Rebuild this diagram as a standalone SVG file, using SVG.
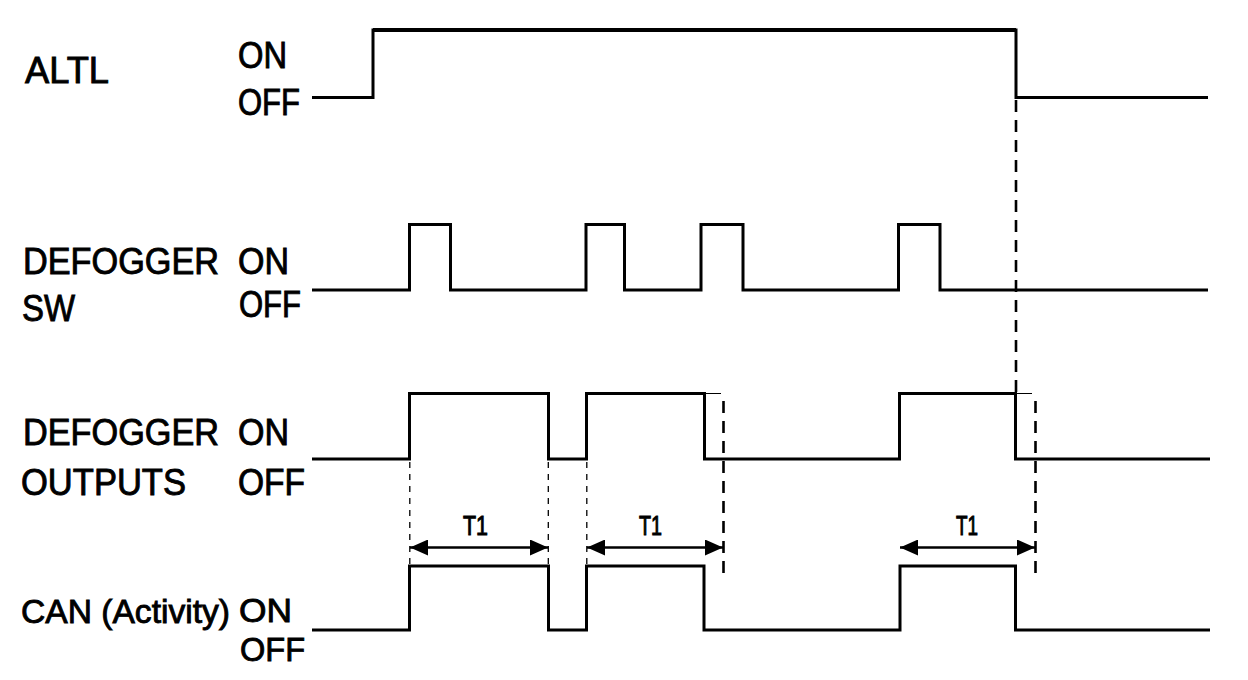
<svg xmlns="http://www.w3.org/2000/svg" width="1248" height="680" viewBox="0 0 1248 680">
<style>
.lbl{font-family:"Liberation Sans",Arial,sans-serif;font-size:36px;fill:#000;stroke:#000;stroke-width:0.9}
.sm{font-size:34px}
.t1{font-family:"Liberation Sans",Arial,sans-serif;font-size:27px;fill:#000;stroke:#000;stroke-width:1}
.wave{fill:none;stroke:#000;stroke-width:3;stroke-linejoin:miter;stroke-linecap:butt}
.thin{fill:none;stroke:#000;stroke-width:1.2}
.dthin{fill:none;stroke:#000;stroke-width:1.3;stroke-dasharray:6 6}
.dbold{fill:none;stroke:#000;stroke-width:2.6;stroke-dasharray:12 8}
.arr{fill:none;stroke:#000;stroke-width:2.6}
</style>
<defs>
<marker id="ah" viewBox="0 0 18 16" refX="18" refY="8" markerWidth="18" markerHeight="16" markerUnits="userSpaceOnUse" orient="auto-start-reverse">
<path d="M0,0 L18,8 L0,16 Z" fill="#000"/>
</marker>
</defs>
<rect width="1248" height="680" fill="#fff"/>

<g id="altl">
<text class="lbl" x="25" y="83" textLength="84" lengthAdjust="spacingAndGlyphs">ALTL</text>
<text class="lbl" x="238" y="68" textLength="49" lengthAdjust="spacingAndGlyphs">ON</text>
<text class="lbl" x="238" y="115" textLength="62" lengthAdjust="spacingAndGlyphs">OFF</text>
<path class="wave" d="M312,97.5 H373 V30 H1016 V97.5 H1208"/>
<path d="M373,30 H1016" stroke="#000" stroke-width="4" fill="none"/>
</g>

<g id="defogger-sw">
<text class="lbl" x="23" y="274" textLength="196" lengthAdjust="spacingAndGlyphs">DEFOGGER</text>
<text class="lbl" x="238" y="274" textLength="51" lengthAdjust="spacingAndGlyphs">ON</text>
<text class="lbl" x="22" y="321" textLength="53" lengthAdjust="spacingAndGlyphs">SW</text>
<text class="lbl" x="239" y="317" textLength="62" lengthAdjust="spacingAndGlyphs">OFF</text>
<path class="wave" d="M312,290 H409.5 V224.5 H450.5 V290 H586 V224.5 H624.5 V290 H701 V224.5 H743 V290 H898.5 V224.5 H940 V290 H1208"/>
</g>

<g id="defogger-outputs">
<text class="lbl" x="23" y="445" textLength="196" lengthAdjust="spacingAndGlyphs">DEFOGGER</text>
<text class="lbl" x="238" y="445" textLength="51" lengthAdjust="spacingAndGlyphs">ON</text>
<text class="lbl" x="21" y="495" textLength="165" lengthAdjust="spacingAndGlyphs">OUTPUTS</text>
<text class="lbl" x="238" y="495" textLength="67" lengthAdjust="spacingAndGlyphs">OFF</text>
<path class="wave" d="M312,459 H409.5 V393.5 H548.5 V459 H586.5 V393.5 H704.5 V459 H899.5 V393.5 H1015.5 V459 H1210"/>
<path class="thin" d="M704.5,393.5 H721 M1015.5,393.5 H1032"/>
</g>

<g id="can-activity">
<text class="lbl sm" x="21" y="623" textLength="209" lengthAdjust="spacingAndGlyphs">CAN (Activity)</text>
<text class="lbl sm" x="239" y="622" textLength="53" lengthAdjust="spacingAndGlyphs">ON</text>
<text class="lbl sm" x="240" y="661" textLength="65" lengthAdjust="spacingAndGlyphs">OFF</text>
<path class="wave" d="M312,630 H409.5 V566 H548.5 V630 H586.5 V566 H704 V630 H900 V566 H1015.5 V630 H1210"/>
</g>

<g id="connectors">
<path class="dbold" d="M1016,100 V392"/>
<path class="dthin" d="M409.8,462 V564 M548.3,462 V564 M586.8,462 V564"/>
<path class="dbold" d="M723.5,401 V578"/>
<path class="dbold" d="M1035.5,401 V578"/>
<path class="arr" d="M410,547.5 H548" marker-start="url(#ah)" marker-end="url(#ah)"/>
<path class="arr" d="M587,547.5 H723" marker-start="url(#ah)" marker-end="url(#ah)"/>
<path class="arr" d="M900,547.5 H1035" marker-start="url(#ah)" marker-end="url(#ah)"/>
<text class="t1" x="463" y="535" textLength="25" lengthAdjust="spacingAndGlyphs">T1</text>
<text class="t1" x="639" y="535" textLength="23" lengthAdjust="spacingAndGlyphs">T1</text>
<text class="t1" x="956" y="535" textLength="22" lengthAdjust="spacingAndGlyphs">T1</text>
</g>
</svg>
